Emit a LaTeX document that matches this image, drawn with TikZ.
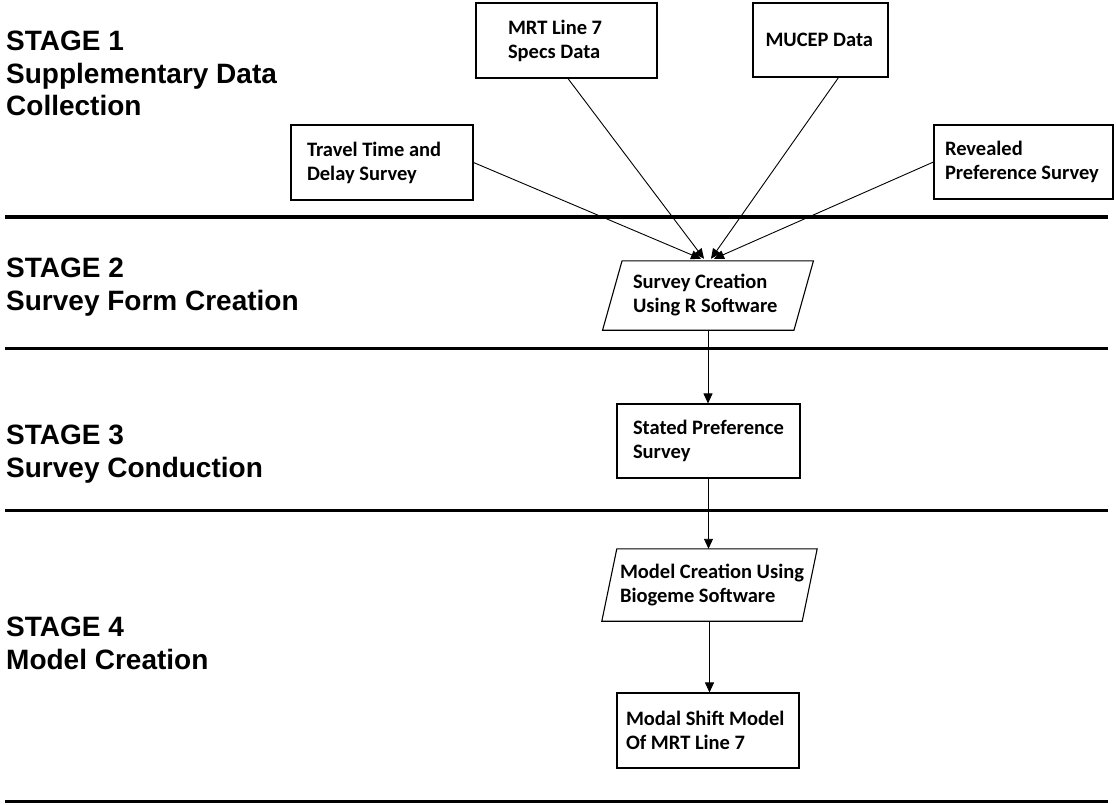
\documentclass[tikz,border=0pt]{standalone}
\usepackage{fontspec}
\setmainfont{Liberation Sans}
\newfontfamily\boxfont{Carlito}
\usetikzlibrary{arrows.meta}
\begin{document}
\begin{tikzpicture}[x=1pt,y=-1pt,
  stagelbl/.style={anchor=north west, inner sep=0pt, align=flush left, font=\bfseries\fontsize{28}{32.5}\selectfont},
  septhick/.style={line width=4pt},
  sepline/.style={line width=3pt},
  procbox/.style={draw, line width=1.1pt, inner xsep=0pt, inner ysep=0pt, align=flush left, font=\boxfont\bfseries\fontsize{20.5}{24}\selectfont},
  iobox/.style={inner xsep=0pt, inner ysep=0pt, align=flush left, font=\boxfont\bfseries\fontsize{20.5}{24}\selectfont},
  ioshape/.style={line width=1.1pt},
  conn/.style={line width=0.9pt, -{Triangle[length=10pt,width=9pt]}}
]
\useasboundingbox (0,0) rectangle (1116,804);

% stage labels
\node[stagelbl] (s1) at (6,31) {STAGE 1\\Supplementary Data\\Collection};
\node[stagelbl] (s2) at (6,258) {STAGE 2\\Survey Form Creation};
\node[stagelbl] (s3) at (6,425) {STAGE 3\\Survey Conduction};
\node[stagelbl] (s4) at (6,617) {STAGE 4\\Model Creation};

% separators
\draw[septhick] (5,217) -- (1108,217);
\draw[sepline] (5,348) -- (1108,348);
\draw[sepline] (5,510) -- (1108,510);
\draw[sepline] (5,801) -- (1108,801);

% stage 1 boxes
\node[procbox, minimum width=182pt, minimum height=75pt, text width=150pt] (tt) at (382,162.5) {Travel Time and\\Delay Survey};
\node[procbox, minimum width=181pt, minimum height=75pt, text width=117pt] (mrt) at (566.5,40.5) {MRT Line 7\\Specs Data};
\node[procbox, minimum width=135pt, minimum height=74pt, text width=110pt] (mu) at (820.5,40) {MUCEP Data};
\node[procbox, minimum width=179pt, minimum height=74pt, text width=157pt] (rp) at (1023.5,162) {Revealed\\Preference Survey};

% stage 2
\node[iobox, minimum width=191pt, minimum height=69pt, text width=150pt] (sc) at (708,295.5) {Survey Creation\\Using R Software};
\draw[ioshape] ([xshift=9.75pt]sc.north west) -- ([xshift=9.75pt]sc.north east) -- ([xshift=-9.75pt]sc.south east) -- ([xshift=-9.75pt]sc.south west) -- cycle;

% stage 3
\node[procbox, minimum width=183pt, minimum height=74pt, text width=151pt] (sp) at (708.5,441) {Stated Preference\\Survey};

% stage 4
\node[iobox, minimum width=200pt, minimum height=72pt, text width=179pt] (mc) at (709.5,585) {\mbox{Model Creation Using}\\Biogeme Software};
\draw[ioshape] ([xshift=7.5pt]mc.north west) -- ([xshift=7.5pt]mc.north east) -- ([xshift=-7.5pt]mc.south east) -- ([xshift=-7.5pt]mc.south west) -- cycle;
\node[procbox, minimum width=182pt, minimum height=75pt, text width=164pt] (ms) at (708,730.5) {Modal Shift Model\\Of MRT Line 7};

% connectors
\draw[conn] (tt.east) -- ([xshift=-7pt,yshift=2pt]sc.north);
\draw[conn] ([xshift=1.5pt]mrt.south) -- ([xshift=-4pt,yshift=2pt]sc.north);
\draw[conn] ([xshift=18pt]mu.south) -- ([xshift=3pt,yshift=2pt]sc.north);
\draw[conn] (rp.west) -- ([xshift=6pt,yshift=2pt]sc.north);
\draw[conn] (sc.south) -- (sc.south |- sp.north);
\draw[conn] (sp.south) -- (sp.south |- mc.north);
\draw[conn] (mc.south) -- (mc.south |- ms.north);
\end{tikzpicture}
\end{document}
